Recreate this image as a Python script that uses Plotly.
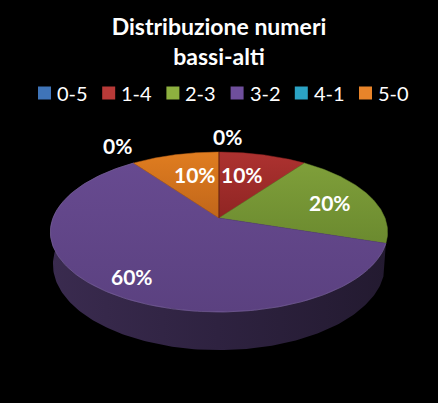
import numpy as np
import plotly.graph_objects as go

# ----------------------------------- Data -----------------------------------
categories = ["0-5", "1-4", "2-3", "3-2", "4-1", "5-0"]
values = [0, 10, 20, 60, 0, 10]
title_text = "Distribuzione numeri<br>bassi-alti"

# colours per category: legend, top of slice, bottom of slice
swatch_colors = ["#3f74b8", "#b83a38", "#8db03f", "#6f4f9c", "#2ba3c4", "#e8842a"]
top_colors = ["#4a7ebb", "#ad3230", "#7f9f3a", "#674a90", "#2ba3c4", "#e07d20"]
bottom_colors = ["#3c6496", "#8f2523", "#6b8a2f", "#5b4180", "#1f84a0", "#c0661a"]

# ---------------------------------- Geometry ---------------------------------
# The axes run in window pixels, the disc is tilted with a small perspective
CX, CY = 219, 218
RX, RY = 166, 77.5
PERSPECTIVE = 0.175
DEPTH = 31.5
LOW_SCALE = 0.985


def project(angle, radius=1.0, drop=0.0):
    # angle in degrees, clockwise from the back of the pie
    a = np.radians(angle)
    px = radius * np.sin(a)
    py = radius * np.cos(a)
    w = 1 + PERSPECTIVE * py
    return CX + RX * px / w, CY - RY * py / w + drop / w


fig = go.Figure()

edges = np.cumsum([0] + values) * 3.6
big = categories.index("3-2")

# Draw the side, only the big slice shows one from this angle
angles = np.linspace(edges[big], edges[big + 1], 200)
x_top, y_top = project(angles)
x_low, y_low = project(angles, drop=DEPTH)
x_low = CX + (x_low - CX) * LOW_SCALE
fig.add_trace(go.Scatter(
    x=np.concatenate([x_top, x_low[::-1]]),
    y=np.concatenate([y_top, y_low[::-1]]),
    mode="lines", fill="toself",
    line=dict(width=0),
    fillgradient=dict(type="horizontal", colorscale=[
        [0, "#3a2b4f"], [0.5, "#2e2240"], [1, "#231a30"]
    ]),
    hoverinfo="skip", showlegend=False,
))

# Draw top faces
for i, value in enumerate(values):
    if value == 0:
        continue
    angles = np.linspace(edges[i], edges[i + 1], 120)
    x_arc, y_arc = project(angles)
    fig.add_trace(go.Scatter(
        x=np.concatenate([[CX], x_arc, [CX]]),
        y=np.concatenate([[CY], y_arc, [CY]]),
        mode="lines", fill="toself",
        line=dict(width=0.5, color=bottom_colors[i]),
        fillgradient=dict(type="vertical", colorscale=[
            [0, bottom_colors[i]], [1, top_colors[i]]
        ]),
        hoverinfo="skip", showlegend=False,
    ))

# Faint light rim on the front edge of the big slice
x_rim, y_rim = project(np.linspace(edges[big], edges[big + 1], 200))
fig.add_trace(go.Scatter(
    x=x_rim, y=y_rim, mode="lines",
    line=dict(width=0.6, color="#7d68a0"),
    hoverinfo="skip", showlegend=False,
))

# Thin dark line between the orange and red slices
x_seam, y_seam = project(np.array([0.0]))
fig.add_trace(go.Scatter(
    x=[CX, x_seam[0]], y=[CY, y_seam[0]], mode="lines",
    line=dict(width=1, color="#5a1a10"),
    hoverinfo="skip", showlegend=False,
))

# Legend drawn by hand, the built-in one keeps too wide a swatch column
for i, name in enumerate(categories):
    fig.add_trace(go.Scatter(
        x=[44.5 + i * 64.2], y=[93], mode="markers",
        marker=dict(symbol="square", size=13, color=swatch_colors[i],
                    line=dict(width=0)),
        hoverinfo="skip", showlegend=False,
    ))
annotations = [
    dict(x=55 + i * 64.2, y=93, xref="x", yref="y", xanchor="left", text=name,
         showarrow=False, font=dict(family="Lato", size=20, color="#ffffff"))
    for i, name in enumerate(categories)
]

# Percent labels
label_xy = [(227, 136), (242, 174), (330, 202), (132, 276), (117, 145), (195, 174)]
annotations += [
    dict(x=x, y=y, xref="x", yref="y", text=f"{value}%", showarrow=False,
         font=dict(family="Lato", size=21, color="#ffffff", weight="bold"))
    for (x, y), value in zip(label_xy, values)
]

# ------------------------------------ Style ----------------------------------
fig.update_layout(
    width=438, height=403,
    margin=dict(l=0, r=0, t=0, b=0),
    paper_bgcolor="#000000", plot_bgcolor="#000000",
    xaxis=dict(range=[0, 438], visible=False, fixedrange=True),
    yaxis=dict(range=[403, 0], visible=False, fixedrange=True),
    title=dict(
        text=title_text, x=0.5, xanchor="center", y=0.913, yanchor="top",
        font=dict(family="Lato", size=23, color="#ffffff", weight="bold"),
    ),
    annotations=annotations,
    showlegend=False,
)

# Page default margin would push the chart off the window
fig.write_html(
    "out.html",
    config={"displayModeBar": False},
    post_script="document.body.style.margin='0';document.body.style.background='#000';",
)
